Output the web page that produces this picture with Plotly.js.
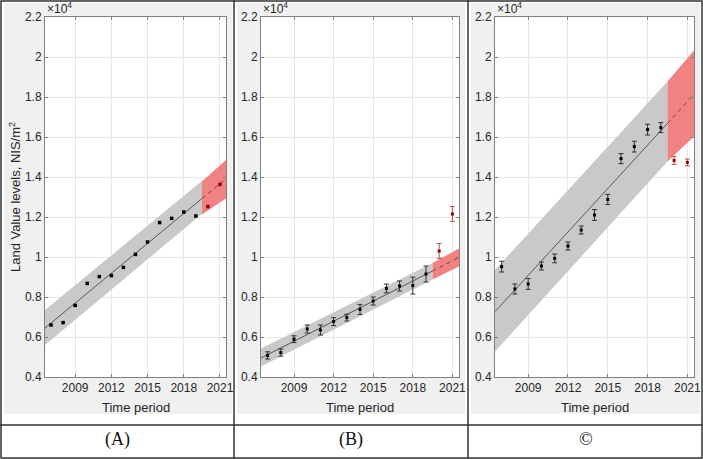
<!DOCTYPE html>
<html>
<head>
<meta charset="utf-8">
<script src="https://cdn.plot.ly/plotly-3.0.1.min.js"></script>
<style>html,body{margin:0;padding:0;background:#fff;}#chart{width:703px;height:459px;}</style>
</head>
<body>
<div id="chart"></div>
<script>
// ---------- data ----------
const years = [2007,2008,2009,2010,2011,2012,2013,2014,2015,2016,2017,2018,2019,2020,2021];
const nObserved = 13; // 2007-2019 observed (black), 2020-2021 out-of-sample (red)

const valuesA = [6600,6720,7580,8680,9020,9070,9480,10130,10750,11720,11930,12250,12050,12520,13630];
const valuesB = [5080,5220,5890,6400,6350,6770,6970,7380,7800,8430,8550,8570,9150,10300,12150];
const errorsB = [180,180,170,200,250,200,170,250,200,220,250,420,400,370,370];
const valuesC = [9520,8400,8650,9550,9930,10550,11350,12100,12880,14920,15520,16370,16470,14830,14730];
const errorsC = [270,250,270,200,220,200,200,270,250,250,270,270,250,200,170];

// fitted trend: start, end of fit period, end of forecast
const fitX = [2006.5, 2019.5, 2021.5];
const fitA = [6450, 12920, 13910];
const fitB = [4950, 9300, 9980];
const fitC = [7270, 16680, 18130];

// confidence band (fit period) and forecast band
const bandX = [2006.5, 2019.5];
const bandUpperA = [7350, 13800], bandLowerA = [5600, 12150];
const bandUpperB = [5430, 9700],  bandLowerB = [4520, 8880];
const bandUpperC = [9350, 18770], bandLowerC = [5270, 14770];
const fcX = [2019.5, 2021.5];
const fcUpperA = [13770, 14850], fcLowerA = [12130, 12930];
const fcUpperB = [9700, 10430],  fcLowerB = [8880, 9520];
const fcUpperC = [18770, 20320], fcLowerC = [14770, 16020];

const xTicks = [2009, 2012, 2015, 2018, 2021];
const yTickVals = [4000,6000,8000,10000,12000,14000,16000,18000,20000,22000];
const yTickText = ['0.4','0.6','0.8','1','1.2','1.4','1.6','1.8','2','2.2'];
const panelLabels = ['(A)', '(B)', '©'];

// ---------- layout helpers ----------
const W = 703, H = 459;
const px = v => v / W;
const py = v => 1 - v / H;
const plotBoxes = [[45, 226], [261, 459], [495, 694]];
const plotTop = 17, plotBottom = 377;
const panelBoxes = [[4, 232], [237, 465], [471, 700]];

const panels = [
  {vals: valuesA, errs: null, fit: fitA, bu: bandUpperA, bl: bandLowerA, fu: fcUpperA, fl: fcLowerA},
  {vals: valuesB, errs: errorsB, fit: fitB, bu: bandUpperB, bl: bandLowerB, fu: fcUpperB, fl: fcLowerB},
  {vals: valuesC, errs: errorsC, fit: fitC, bu: bandUpperC, bl: bandLowerC, fu: fcUpperC, fl: fcLowerC}
];

const traces = [];
const layout = {
  width: W, height: H,
  margin: {l: 0, r: 0, t: 0, b: 0},
  paper_bgcolor: '#ffffff',
  plot_bgcolor: 'rgba(0,0,0,0)',
  showlegend: false,
  font: {family: 'Liberation Sans, Arial, sans-serif', color: '#262626'},
  shapes: [],
  annotations: []
};

panels.forEach((p, i) => {
  const xa = i === 0 ? 'x' : 'x' + (i + 1);
  const ya = i === 0 ? 'y' : 'y' + (i + 1);
  const xk = i === 0 ? 'xaxis' : 'xaxis' + (i + 1);
  const yk = i === 0 ? 'yaxis' : 'yaxis' + (i + 1);

  // gray band
  traces.push({x: bandX.concat(bandX.slice().reverse()), y: p.bu.concat(p.bl.slice().reverse()),
    xaxis: xa, yaxis: ya, type: 'scatter', mode: 'lines', fill: 'toself',
    fillcolor: '#c9c9c9', line: {width: 0}, hoverinfo: 'skip'});
  // red forecast band
  traces.push({x: fcX.concat(fcX.slice().reverse()), y: p.fu.concat(p.fl.slice().reverse()),
    xaxis: xa, yaxis: ya, type: 'scatter', mode: 'lines', fill: 'toself',
    fillcolor: '#f08282', line: {width: 0}, hoverinfo: 'skip'});
  // fit line
  traces.push({x: fitX.slice(0, 2), y: p.fit.slice(0, 2), xaxis: xa, yaxis: ya,
    type: 'scatter', mode: 'lines', line: {color: '#3a3a3a', width: 0.8}});
  traces.push({x: fitX.slice(1), y: p.fit.slice(1), xaxis: xa, yaxis: ya,
    type: 'scatter', mode: 'lines', line: {color: '#7a3030', width: 0.9, dash: '4px,4px'}});
  // observed points
  const mSize = p.errs ? 3 : 3.5;
  const obs = {x: years.slice(0, nObserved), y: p.vals.slice(0, nObserved), xaxis: xa, yaxis: ya,
    type: 'scatter', mode: 'markers',
    marker: {color: '#000000', size: mSize, symbol: 'square'}};
  if (p.errs) obs.error_y = {type: 'data', array: p.errs.slice(0, nObserved), visible: true, color: '#222', thickness: 0.9, width: 2.5};
  traces.push(obs);
  const fc = {x: years.slice(nObserved), y: p.vals.slice(nObserved), xaxis: xa, yaxis: ya,
    type: 'scatter', mode: 'markers',
    marker: {color: '#9a0000', size: mSize, symbol: 'square'}};
  if (p.errs) fc.error_y = {type: 'data', array: p.errs.slice(nObserved), visible: true, color: '#b04040', thickness: 0.9, width: 2.5};
  traces.push(fc);

  const [l, r] = plotBoxes[i];
  layout[xk] = {
    domain: [px(l), px(r)], anchor: ya, range: [2006.5, 2021.5],
    tickvals: xTicks, ticks: 'inside', ticklen: 3, tickcolor: '#808080',
    showline: true, mirror: 'ticks', linecolor: '#808080', linewidth: 1,
    showgrid: true, gridcolor: '#e6e6e6', zeroline: false,
    tickfont: {size: 12, color: '#262626'}, fixedrange: true
  };
  layout[yk] = {
    domain: [py(plotBottom), py(plotTop)], anchor: xa, range: [4000, 22000],
    tickvals: yTickVals, ticktext: yTickText, ticks: 'inside', ticklen: 3, tickcolor: '#808080',
    showline: true, mirror: 'ticks', linecolor: '#808080', linewidth: 1,
    showgrid: true, gridcolor: '#e6e6e6', zeroline: false,
    tickfont: {size: 12, color: '#262626'}, fixedrange: true
  };

  // gray figure panel + white plot area
  const [gl, gr] = panelBoxes[i];
  layout.shapes.push({type: 'rect', xref: 'paper', yref: 'paper', layer: 'below',
    x0: px(gl), x1: px(gr), y0: py(414), y1: py(3), fillcolor: '#f0f0f0', line: {width: 0}});
  layout.shapes.push({type: 'rect', xref: 'paper', yref: 'paper', layer: 'below',
    x0: px(l), x1: px(r), y0: py(plotBottom), y1: py(plotTop), fillcolor: '#ffffff', line: {width: 0}});

  // x10^4 exponent label
  layout.annotations.push({xref: 'paper', yref: 'paper', x: px(l), y: py(plotTop + 1),
    xanchor: 'left', yanchor: 'bottom', showarrow: false, text: '×10<sup>4</sup>',
    font: {size: 12, color: '#262626'}});
  // x-axis title
  layout.annotations.push({xref: 'paper', yref: 'paper', x: px((l + r) / 2), y: py(407),
    xanchor: 'center', yanchor: 'middle', showarrow: false, text: 'Time period',
    font: {size: 13, color: '#262626'}});
  // panel label in table row
  layout.annotations.push({xref: 'paper', yref: 'paper', x: px([117, 351, 586][i]), y: py(439),
    xanchor: 'center', yanchor: 'middle', showarrow: false, text: panelLabels[i],
    font: {size: 18, color: '#111', family: 'Liberation Serif, Times New Roman, serif'}});
});

// y-axis title
layout.annotations.push({xref: 'paper', yref: 'paper', x: px(15), y: py(197),
  xanchor: 'center', yanchor: 'middle', showarrow: false, textangle: -90,
  text: 'Land Value levels, NIS/m<sup>2</sup>', font: {size: 13, color: '#262626'}});

// table borders
const border = {color: '#333333', width: 1.5};
layout.shapes.push({type: 'rect', xref: 'paper', yref: 'paper', x0: px(1), x1: px(702), y0: py(458), y1: py(1), line: border, fillcolor: 'rgba(0,0,0,0)'});
layout.shapes.push({type: 'line', xref: 'paper', yref: 'paper', x0: px(234), x1: px(234), y0: 0, y1: 1, line: border});
layout.shapes.push({type: 'line', xref: 'paper', yref: 'paper', x0: px(468), x1: px(468), y0: 0, y1: 1, line: border});
layout.shapes.push({type: 'line', xref: 'paper', yref: 'paper', x0: 0, x1: 1, y0: py(425), y1: py(425), line: border});

Plotly.newPlot('chart', traces, layout, {displayModeBar: false, staticPlot: true});
</script>
</body>
</html>
